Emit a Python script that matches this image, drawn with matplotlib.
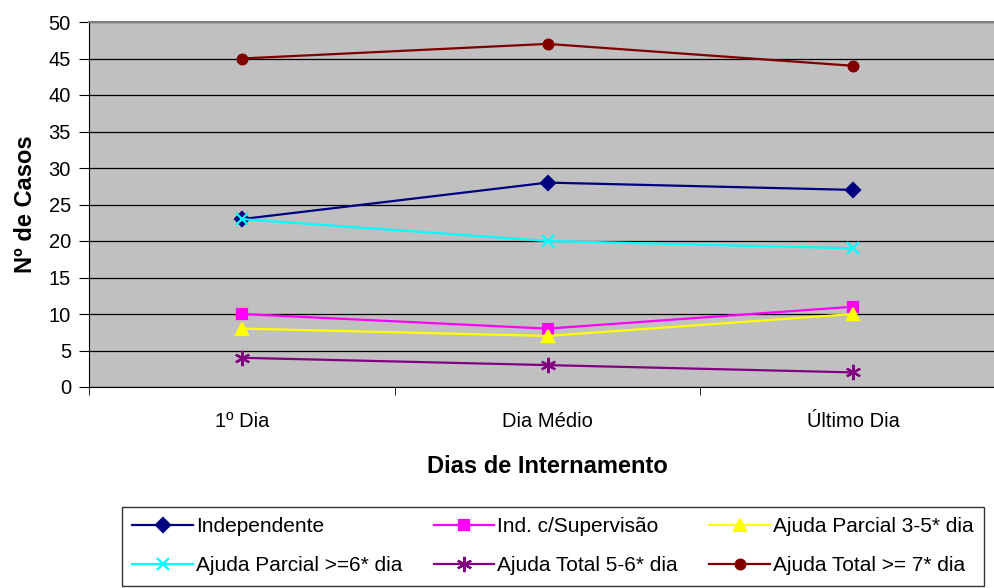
import matplotlib
matplotlib.use('Agg')
import matplotlib.pyplot as plt

plt.rcParams['font.family'] = ['Liberation Sans', 'DejaVu Sans']

days = ['1º Dia', 'Dia Médio', 'Último Dia']
independente = [23, 28, 27]
ind_supervisao = [10, 8, 11]
ajuda_parcial_35 = [8, 7, 10]
ajuda_parcial_6 = [23, 20, 19]
ajuda_total_56 = [4, 3, 2]
ajuda_total_7 = [45, 47, 44]

series = [
    ('Independente', independente, '#000080', 'D', 7),
    ('Ind. c/Supervisão', ind_supervisao, '#FF00FF', 's', 7),
    ('Ajuda Parcial 3-5* dia', ajuda_parcial_35, '#FFFF00', '^', 9),
    ('Ajuda Parcial >=6* dia', ajuda_parcial_6, '#00FFFF', 'x', 9),
    ('Ajuda Total 5-6* dia', ajuda_total_56, '#800080', (6, 2, 0), 11),
    ('Ajuda Total >= 7* dia', ajuda_total_7, '#800000', 'o', 7),
]

fig = plt.figure(figsize=(9.94, 5.88), dpi=100)
# plot area runs a bit past the right edge of the picture, as in the original
ax = fig.add_axes([89 / 994, 1 - 387 / 588, (1006 - 89) / 994, (387 - 22) / 588])
ax.set_facecolor('#C0C0C0')

x = list(range(len(days)))
for name, vals, color, marker, ms in series:
    ax.plot(x, vals, color=color, marker=marker, markersize=ms, linewidth=1.6,
            markeredgewidth=1.6, label=name)

ax.set_xlim(-0.5, 2.5)
ax.set_ylim(0, 50)
ax.set_yticks(range(0, 51, 5))
ax.set_xticks(x)
ax.set_xticklabels(days)
ax.set_xticks([-0.5, 0.5, 1.5, 2.5], minor=True)
ax.tick_params(axis='x', which='major', length=0, pad=18, labelsize=14.5)
ax.tick_params(axis='x', which='minor', length=6, direction='out')
ax.tick_params(axis='y', length=7, direction='out', labelsize=14.5, pad=6)
ax.yaxis.grid(True, color='black', linewidth=0.9)
ax.set_axisbelow(True)
ax.spines['top'].set_color('#808080')
ax.spines['top'].set_linewidth(1.5)
ax.spines['right'].set_visible(False)
ax.spines['left'].set_color('black')
ax.spines['bottom'].set_color('black')

ax.set_ylabel('Nº de Casos', fontsize=17, fontweight='bold', labelpad=8)
ax.set_xlabel('Dias de Internamento', fontsize=17, fontweight='bold', labelpad=17)

# legend filled row by row
handles, labels = ax.get_legend_handles_labels()
order = [0, 3, 1, 4, 2, 5]
leg = fig.legend([handles[i] for i in order], [labels[i] for i in order],
                 loc='upper left', bbox_to_anchor=(122 / 994, 1 - 507 / 588, (984 - 122) / 994, 0),
                 mode='expand', ncol=3, fontsize=15, frameon=True, fancybox=False,
                 handlelength=2.9, handletextpad=0.15, borderaxespad=0, columnspacing=0.9,
                 labelspacing=0.95, borderpad=0.5)
leg.get_frame().set_edgecolor('black')
leg.get_frame().set_linewidth(1)

fig.savefig('out.png', dpi=100)
